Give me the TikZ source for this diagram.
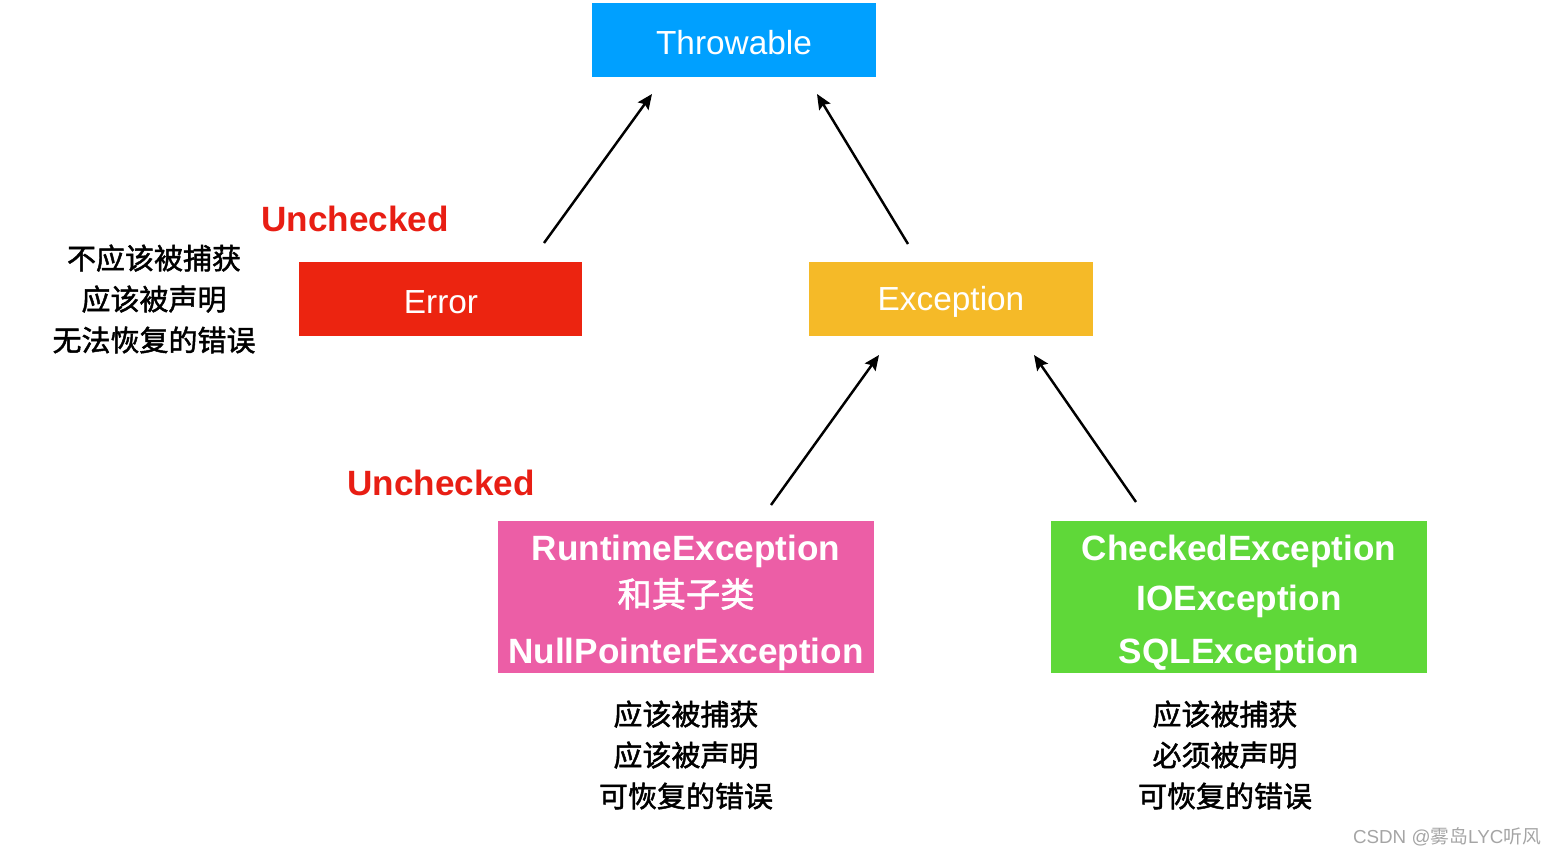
\documentclass[tikz,border=0pt]{standalone}
\usepackage{fontspec}
\setmainfont{Liberation Sans}
\newfontfamily\cjk{Noto Sans CJK SC}
\newfontfamily\cjkm[FakeBold=1.6]{Noto Sans CJK SC}
\usetikzlibrary{arrows.meta}
\definecolor{cthrow}{RGB}{0,160,255}
\definecolor{cerror}{RGB}{236,36,16}
\definecolor{cexc}{RGB}{245,186,40}
\definecolor{crun}{RGB}{236,94,166}
\definecolor{cchk}{RGB}{95,216,57}
\definecolor{cwm}{RGB}{165,165,165}
\definecolor{cred}{RGB}{232,30,20}
\tikzset{
  box/.style={rectangle, draw=none, inner sep=0pt, anchor=center},
  boxtext/.style={text=white, font=\fontsize{19}{22}\selectfont, inner sep=0pt, anchor=center},
  boxbold/.style={text=white, font=\fontsize{20}{24}\selectfont\bfseries, inner sep=0pt, anchor=center},
  boxcjk/.style={text=white, font=\fontsize{19.5}{22}\selectfont\cjkm, inner sep=0pt, anchor=center},
  unch/.style={text=cred, font=\fontsize{20}{24}\selectfont\bfseries, inner sep=0pt, anchor=center},
  note/.style={text=black, font=\fontsize{16.5}{23.3}\selectfont\cjkm, align=center, inner sep=0pt, anchor=center},
  conn/.style={line width=1.4pt, -{Stealth[length=0.3cm, width=0.26cm, inset=0.05cm]}},
}
\begin{document}
\begin{tikzpicture}[x=0.02cm, y=-0.02cm]
\useasboundingbox (0,0) rectangle (1555,856);
% boxes
\node[box, fill=cthrow, minimum width=5.68cm, minimum height=1.48cm] (throw) at (734,40) {};
\node[boxtext] (throwt) at (734,43) {Throwable};
\node[box, fill=cerror, minimum width=5.66cm, minimum height=1.48cm] (err) at (440.5,299) {};
\node[boxtext] (errt) at (441,302) {Error};
\node[box, fill=cexc, minimum width=5.68cm, minimum height=1.48cm] (exc) at (951,299) {};
\node[boxtext] (exct) at (951,302) {Exception};
\node[box, fill=crun, minimum width=7.52cm, minimum height=3.04cm] (run) at (686,597) {};
\node[boxbold] (run1) at (686,551) {RuntimeException};
\node[boxcjk] (run2) at (686,594) {和其子类};
\node[boxbold] (run3) at (686,654) {NullPointerException};
\node[box, fill=cchk, minimum width=7.52cm, minimum height=3.04cm] (chk) at (1239,597) {};
\node[boxbold] (chk1) at (1239,551) {CheckedException};
\node[boxbold] (chk2) at (1239,601) {IOException};
\node[boxbold] (chk3) at (1239,654) {SQLException};
% labels
\node[unch] (u1) at (355,219) {Unchecked};
\node[unch] (u2) at (441,483) {Unchecked};
\node[note] (n1) at (154,299) {不应该被捕获\\应该被声明\\无法恢复的错误};
\node[note] (n2) at (686,755) {应该被捕获\\应该被声明\\可恢复的错误};
\node[note] (n3) at (1225,755) {应该被捕获\\必须被声明\\可恢复的错误};
\node[text=cwm, font=\fontsize{10.7}{13}\selectfont, inner sep=0pt, anchor=center] (wm) at (1447,837) {CSDN @{\cjk 雾岛}LYC{\cjk 听风}};
% connector ends
\coordinate (a1s) at (544,243);
\coordinate (a1e) at (652,94);
\coordinate (a2s) at (908,244);
\coordinate (a2e) at (817,94);
\coordinate (a3s) at (771,505);
\coordinate (a3e) at (879,355);
\coordinate (a4s) at (1136,502);
\coordinate (a4e) at (1034,355);
\draw[conn] (a1s) -- (a1e);
\draw[conn] (a2s) -- (a2e);
\draw[conn] (a3s) -- (a3e);
\draw[conn] (a4s) -- (a4e);
\end{tikzpicture}
\end{document}
